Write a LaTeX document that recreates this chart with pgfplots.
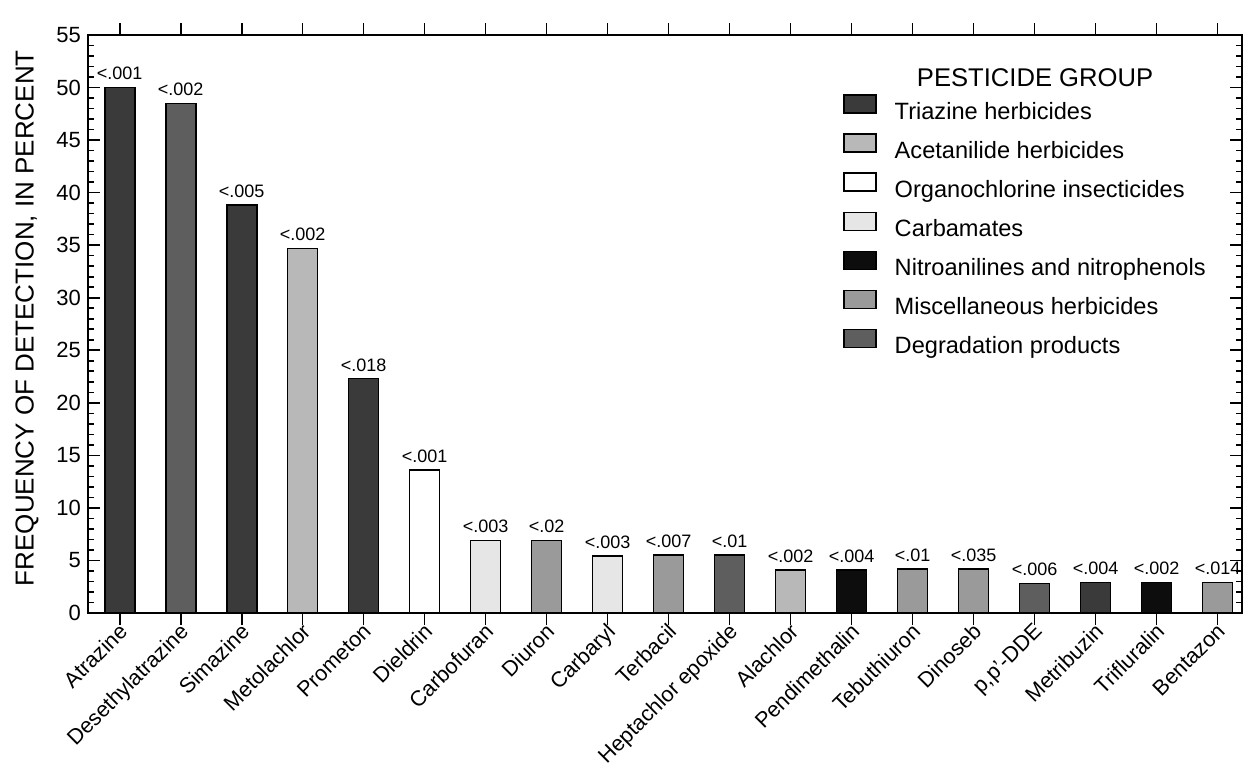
\documentclass[border=0pt]{standalone}
\usepackage{fontspec}
\setmainfont{Liberation Sans}
\usepackage{pgfplots}
\pgfplotsset{compat=1.18}
\definecolor{triazine}{HTML}{3A3A3A}
\definecolor{acetanilide}{HTML}{B8B8B8}
\definecolor{organo}{HTML}{FFFFFF}
\definecolor{carbamate}{HTML}{E6E6E6}
\definecolor{nitro}{HTML}{0D0D0D}
\definecolor{misc}{HTML}{9A9A9A}
\definecolor{degrad}{HTML}{5E5E5E}
\begin{document}
\begin{tikzpicture}
\begin{axis}[
  scale only axis, width=577pt, height=289pt,
  xmin=0.48, xmax=19.4, ymin=0, ymax=55,
  ybar, bar width=15pt,
  xtick={1,...,19},
  xticklabels={Atrazine, Desethylatrazine, Simazine, Metolachlor, Prometon, Dieldrin, Carbofuran, Diuron, Carbaryl, Terbacil, Heptachlor epoxide, Alachlor, Pendimethalin, Tebuthiuron, Dinoseb, {p,p'-DDE}, Metribuzin, Trifluralin, Bentazon},
  x tick label style={rotate=45, anchor=north east, font=\fontsize{10.8}{12}\selectfont, inner sep=1pt, yshift=3pt, xshift=1.5pt},
  ytick={0,5,...,55}, minor y tick num=4,
  y tick label style={font=\fontsize{11}{13}\selectfont},
  /pgf/number format/assume math mode=true,
  ylabel={FREQUENCY OF DETECTION, IN PERCENT},
  every axis y label/.style={at={(rel axis cs:0,0.51)}, xshift=-30.5pt, rotate=90, anchor=center, font=\fontsize{13}{15}\selectfont},
  axis line style={line width=1pt},
  major tick length=6pt, minor tick length=3pt,
  tick style={black, line width=0.8pt},
  nodes near coords, point meta=explicit symbolic,
  every node near coord/.append style={font=\fontsize{9}{10}\selectfont, black},
  legend image code/.code={\draw[#1] (0pt,-0.5pt) rectangle (16pt,8.5pt);},
  legend style={draw=none, fill=none, inner sep=0pt, at={(rel axis cs:0.654,0.898)}, anchor=north west,
    font=\fontsize{11.8}{13}\selectfont, row sep=3.6pt, column sep=7pt, cells={anchor=west}},
]
\addplot[fill=triazine, draw=black, line width=0.8pt, bar shift=0pt] coordinates {(1,50.0)[<.001] (3,38.8)[<.005] (5,22.3)[<.018] (17,2.9)[<.004]};
\addlegendentry{Triazine herbicides}
\addplot[fill=acetanilide, draw=black, line width=0.8pt, bar shift=0pt] coordinates {(4,34.7)[<.002] (12,4.1)[<.002]};
\addlegendentry{Acetanilide herbicides}
\addplot[fill=organo, draw=black, line width=0.8pt, bar shift=0pt] coordinates {(6,13.6)[<.001]};
\addlegendentry{Organochlorine insecticides}
\addplot[fill=carbamate, draw=black, line width=0.8pt, bar shift=0pt] coordinates {(7,6.9)[<.003] (9,5.4)[<.003]};
\addlegendentry{Carbamates}
\addplot[fill=nitro, draw=black, line width=0.8pt, bar shift=0pt] coordinates {(13,4.1)[<.004] (18,2.9)[<.002]};
\addlegendentry{Nitroanilines and nitrophenols}
\addplot[fill=misc, draw=black, line width=0.8pt, bar shift=0pt] coordinates {(8,6.9)[<.02] (10,5.5)[<.007] (14,4.2)[<.01] (15,4.2)[<.035] (19,2.9)[<.014]};
\addlegendentry{Miscellaneous herbicides}
\addplot[fill=degrad, draw=black, line width=0.8pt, bar shift=0pt] coordinates {(2,48.5)[<.002] (11,5.5)[<.01] (16,2.8)[<.006]};
\addlegendentry{Degradation products}
\node[anchor=west, font=\fontsize{12.8}{14}\selectfont, inner sep=0pt] at (rel axis cs:0.718,0.9256) {PESTICIDE GROUP};
\end{axis}
\pgfresetboundingbox
\path[use as bounding box] ([xshift=-44pt,yshift=-76.5pt]current axis.south west) rectangle ([xshift=2.5pt,yshift=17.5pt]current axis.north east);
\end{tikzpicture}
\end{document}
